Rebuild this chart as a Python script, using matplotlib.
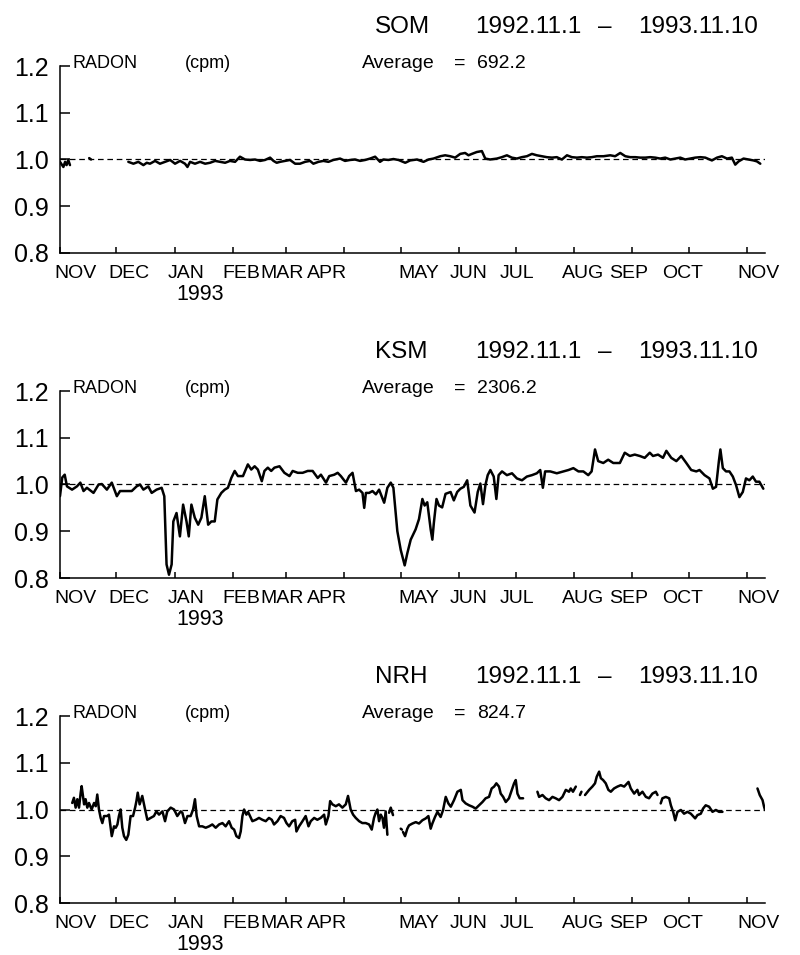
import numpy as np
import matplotlib
matplotlib.use("Agg")
import matplotlib.pyplot as plt

nan = np.nan

# ---------------- data (days since 1992-11-01, relative radon) ----------------
som_day = [0, 1.8, 2.7, 3.5, 4.4, 5.3, nan, 15.5, 16.5, nan,
           36.3, 39.0, 41.6, 44.3, 46.1, 47.8, 50.5, 53.1, 55.8, 58.5, 61.1, 63.8, 66.4, 67.7,
           69.1, 71.7, 74.4, 77.1, 79.7, 82.4, 85.0, 87.7, 90.3, 93.0, 95.6, 98.3, 101.0, 103.6,
           106.3, 108.9, 111.6, 113.4, 115.1, 116.9, 119.6, 122.2, 124.9, 127.5, 130.2, 132.8,
           134.6, 137.3, 139.9, 142.6, 145.2, 148.8, 151.4, 154.1, 156.7, 159.4, 162.1, 164.7,
           167.4, 170.0, 171.8, 174.5, 177.1, 179.8,
           183.4, 186.0, 189.6, 193.1, 195.8, 198.4, 202.0, 204.6, 207.3, 209.9, 212.6, 215.2,
           217.0, 218.8, 221.4, 224.1, 225.9, 228.5, 232.1, 234.7, 237.4, 240.0, 242.7, 245.3,
           248.0, 250.7, 253.3, 256.0, 258.6, 261.3, 263.9, 266.6, 269.3, 271.9, 274.6, 277.2,
           279.9, 282.5, 285.2, 288.7, 292.3, 294.9, 297.6, 300.3, 302.9, 305.6, 308.2, 310.9,
           313.5, 316.2, 318.8, 321.5, 324.2, 326.8, 329.5, 332.1, 334.8, 337.4, 340.1, 342.8,
           346.3, 349.0, 351.6, 354.3, 356.9, 358.7, 360.5, 363.1, 365.8, 368.4, 370.2, 372.0]
som_val = [0.995, 0.984, 0.995, 0.988, 0.999, 0.988, nan, 1.003, 1.000, nan,
           0.995, 0.991, 0.995, 0.988, 0.993, 0.991, 0.997, 0.991, 0.995, 0.999, 0.991, 0.997, 0.991, 0.984,
           0.995, 0.991, 0.995, 0.991, 0.993, 0.997, 0.995, 0.993, 0.997, 0.995, 1.006, 1.000, 0.999, 1.000,
           0.997, 0.999, 1.004, 0.997, 0.993, 0.995, 0.997, 0.999, 0.991, 0.991, 0.995, 0.997,
           0.991, 0.995, 0.997, 0.995, 0.999, 1.002, 0.997, 0.999, 1.000, 0.997, 0.999, 1.002,
           1.006, 0.995, 1.000, 0.999, 1.001, 0.999,
           0.993, 0.998, 1.000, 0.995, 1.000, 1.002, 1.007, 1.009, 1.007, 1.004, 1.012, 1.014,
           1.009, 1.012, 1.016, 1.018, 1.002, 1.000, 1.002, 1.005, 1.009, 1.004, 1.002, 1.005,
           1.007, 1.012, 1.009, 1.007, 1.005, 1.004, 1.005, 1.000, 1.009, 1.005, 1.004, 1.005,
           1.004, 1.005, 1.007, 1.007, 1.009, 1.007, 1.014, 1.007, 1.005, 1.005, 1.004, 1.004,
           1.005, 1.004, 1.002, 1.004, 1.000, 1.002, 1.004, 1.000, 1.002, 1.004, 1.005, 1.004,
           0.998, 1.004, 1.007, 1.002, 1.004, 0.989, 0.996, 1.002, 1.000, 0.998, 0.996, 0.991]

ksm_day = [0, 1.2, 2.5, 3.7, 6.4, 9.0, 10.8, 12.5, 14.3, 17.8, 20.5, 22.2, 24.9, 27.5, 30.2,
           31.9, 34.6, 38.1, 40.7, 42.5, 44.3, 46.9, 48.7, 51.3, 54.0, 55.4, 56.6, 57.9, 59.3,
           60.2, 61.9, 63.7, 65.4, 67.2, 68.4, 69.8, 71.6, 73.4, 75.1, 76.9, 78.7, 80.4, 82.2,
           83.6, 85.7, 87.5, 89.2, 91.0, 92.8, 94.5, 97.2, 99.8, 101.6, 103.4, 105.1, 107.2,
           108.6, 110.4, 112.2, 113.9, 116.6, 119.2, 121.9, 123.6, 126.3, 128.9, 131.6, 134.2,
           136.9, 138.6, 141.3, 143.0, 145.7, 147.5, 149.2, 151.9, 153.6, 155.4, 157.2, 158.9,
           160.7, 161.6, 162.5, 164.2, 166.0, 167.8, 169.5, 172.2, 173.9, 175.7, 177.1, 179.2,
           181.0, 183.1, 184.5, 186.3, 188.9, 190.7, 192.5, 193.7, 195.1, 196.9, 197.8, 198.6,
           200.0, 201.3, 203.0, 204.8, 207.5, 209.2, 211.0, 212.7, 214.5, 216.3, 218.0, 220.2,
           221.9, 223.3, 224.7, 226.0, 227.2, 228.6, 230.4, 231.8, 233.0, 234.8, 237.4, 240.1,
           242.7, 245.4, 248.0, 250.7, 253.3, 255.1, 256.5, 257.7, 260.4, 263.9, 267.4, 270.1,
           272.7, 275.4, 278.0, 280.6, 282.4, 284.2, 285.9, 288.6, 291.2, 293.9, 297.4, 300.0,
           302.7, 305.3, 308.0, 310.6, 313.3, 315.0, 317.7, 320.3, 322.1, 324.7, 327.4, 330.0,
           332.7, 335.3, 338.0, 339.7, 342.4, 345.0, 346.8, 348.5, 350.0, 350.8, 352.1, 353.8,
           355.6, 357.4, 359.1, 360.9, 362.7, 364.4, 366.2, 368.0, 369.7, 371.5, 373.6]
ksm_val = [0.975, 1.015, 1.021, 0.996, 0.989, 0.996, 1.004, 0.986, 0.993, 0.982, 1.000, 1.001, 0.989, 1.004, 0.975,
           0.986, 0.986, 0.986, 0.996, 1.000, 0.989, 0.996, 0.982, 0.989, 0.993, 0.975, 0.829, 0.807, 0.829,
           0.921, 0.939, 0.889, 0.957, 0.921, 0.889, 0.957, 0.929, 0.914, 0.929, 0.975, 0.914, 0.921, 0.921,
           0.968, 0.982, 0.989, 0.993, 1.014, 1.029, 1.018, 1.018, 1.043, 1.032, 1.039, 1.032, 1.007,
           1.029, 1.036, 1.029, 1.036, 1.039, 1.025, 1.018, 1.029, 1.025, 1.025, 1.029, 1.029,
           1.014, 1.021, 1.004, 1.018, 1.021, 1.025, 1.018, 1.004, 1.018, 1.025, 0.986, 0.989,
           0.982, 0.950, 0.982, 0.982, 0.986, 0.979, 0.989, 0.961, 0.993, 1.004, 0.993, 0.900,
           0.860, 0.827, 0.853, 0.882, 0.904, 0.926, 0.969, 0.955, 0.962, 0.904, 0.882, 0.918,
           0.969, 0.955, 0.951, 0.980, 0.984, 0.966, 0.984, 0.991, 0.995, 1.009, 0.955, 0.940,
           0.984, 1.002, 0.958, 0.999, 1.020, 1.031, 1.017, 0.969, 1.020, 1.028, 1.020, 1.024,
           1.013, 1.009, 1.017, 1.020, 1.024, 1.031, 0.993, 1.028, 1.028, 1.024, 1.028, 1.031,
           1.035, 1.028, 1.028, 1.020, 1.028, 1.075, 1.050, 1.046, 1.053, 1.046, 1.046, 1.068,
           1.061, 1.064, 1.061, 1.057, 1.068, 1.061, 1.064, 1.057, 1.072, 1.057, 1.050, 1.061,
           1.046, 1.031, 1.028, 1.031, 1.020, 1.013, 0.991, 0.995, 1.050, 1.075, 1.035, 1.028,
           1.028, 1.017, 0.999, 0.973, 0.984, 1.013, 1.009, 1.017, 1.006, 1.006, 0.991]

nrh_day = [6.5, 7.4, 8.3, 9.2, 10.1, 11.0, 11.5, 12.8, 13.6, 14.5, 15.4, 16.8, 18.1, 19.0, 19.8,
           20.7, 21.6, 22.5, 23.4, 25.1, 26.0, 27.5, 28.7, 29.6, 30.5, 31.3, 32.2, 33.1, 34.0,
           35.2, 36.3, 37.5, 38.8, 39.9, 40.6, 41.3, 42.3, 43.7, 45.2, 46.4, 48.2, 49.9, 51.2,
           52.6, 54.4, 55.8, 57.0, 58.8, 60.6, 62.3, 64.1, 65.0, 66.4, 67.7, 69.4, 70.7, 71.7,
           72.6, 73.9, 75.6, 77.4, 79.2, 80.9, 82.7, 84.5, 86.3, 88.0, 89.8, 91.2, 92.5, 93.7,
           95.1, 96.0, 96.9, 97.8, 99.0, 99.9, 102.2, 104.0, 105.7, 107.5, 109.3, 111.0, 112.5,
           113.7, 115.5, 117.2, 119.0, 120.3, 121.7, 123.4, 124.9, 125.6, 127.0, 128.8, 130.5,
           132.0, 133.2, 135.0, 136.7, 138.5, 140.3, 141.2, 142.6, 143.5, 144.7, 146.5, 148.2,
           150.0, 151.8, 153.0, 154.4, 155.7, 157.1, 158.9, 160.6, 162.4, 164.2, 165.6, 166.8,
           167.7, 168.6, 169.5, 170.4, 171.3, 172.1, 173.0, 173.9, nan,
           174.8, 175.7, 176.9, nan, 181.0, 181.6, nan,
           182.2, 183.3, 184.5, 185.4, 187.2, 189.0, 190.7, 192.5, 194.3, 195.7, 196.9, 197.8,
           199.2, 200.5, 202.2, 203.5, 204.9, 206.3, 207.6, 209.3, 211.1, 212.9, 213.8, 215.5,
           217.3, 219.1, 220.8, 222.6, 224.4, 226.1, 227.9, 229.3, 230.6, 231.8, 233.2, 234.1,
           235.4, 236.8, 238.5, 240.0, 241.2, 242.1, 243.0, 244.2, 246.0, nan,
           253.6, 254.5, 256.3, 258.0, 259.8, 261.6, 263.3, 265.1, 266.9, 268.7, 270.4, 271.3,
           272.5, 274.0, nan, 276.2, 277.0, nan,
           278.9, 281.1, 282.8, 284.2, 285.1, 286.4, 287.3, 288.5, 289.9, 291.3, 292.6, 294.3,
           296.1, 297.9, 299.7, 302.0, 303.2, 305.0, 306.7, 307.6, 309.4, 311.2, 312.9, 314.7,
           316.5, 317.4, nan,
           319.1, 320.0, 321.8, 323.6, 324.5, 325.7, 326.8, 328.0, 329.8, 331.5, 333.3, 335.1,
           337.4, 338.6, 340.4, 341.6, 343.0, 344.8, 346.6, 348.4, 350.1, 351.9, nan,
           370.5, 371.7, 373.2, 374.0, 374.5]
nrh_val = [1.014, 1.025, 1.004, 1.022, 1.004, 1.036, 1.050, 1.011, 1.022, 1.004, 1.014, 1.000, 1.014, 1.007, 1.032,
           1.000, 0.982, 0.971, 0.986, 0.986, 0.989, 0.943, 0.964, 0.961, 0.968, 0.986, 1.000, 0.961, 0.943,
           0.935, 0.946, 0.986, 0.986, 1.004, 1.018, 1.036, 1.011, 1.029, 1.000, 0.978, 0.982, 0.986, 0.996,
           0.989, 0.996, 0.975, 0.996, 1.004, 1.000, 0.986, 0.996, 0.993, 0.971, 0.986, 0.986, 1.000, 1.022,
           0.986, 0.964, 0.964, 0.961, 0.964, 0.968, 0.961, 0.968, 0.971, 0.964, 0.975, 0.961, 0.957, 0.943,
           0.939, 0.953, 0.986, 1.000, 0.989, 0.995, 0.975, 0.978, 0.982, 0.978, 0.975, 0.982, 0.978,
           0.968, 0.975, 0.986, 0.982, 0.971, 0.964, 0.975, 0.978, 0.953, 0.964, 0.975, 0.986,
           0.964, 0.975, 0.982, 0.978, 0.982, 0.989, 0.968, 0.986, 1.018, 1.011, 1.007, 1.011,
           1.004, 1.011, 1.029, 1.000, 0.989, 0.982, 0.975, 0.971, 0.971, 0.968, 0.957, 0.982,
           0.993, 1.000, 0.975, 0.989, 0.982, 0.961, 0.996, 0.946, nan,
           0.993, 1.004, 0.988, nan, 0.959, 0.957, nan,
           0.952, 0.943, 0.959, 0.966, 0.970, 0.973, 0.970, 0.977, 0.981, 0.986, 0.959, 0.970,
           0.984, 0.995, 0.984, 0.999, 1.027, 1.013, 1.006, 1.020, 1.038, 1.042, 1.020, 1.013,
           1.009, 1.006, 1.002, 1.009, 1.016, 1.024, 1.027, 1.045, 1.049, 1.056, 1.049, 1.034,
           1.027, 1.016, 1.024, 1.042, 1.056, 1.063, 1.034, 1.024, 1.024, nan,
           1.038, 1.027, 1.031, 1.024, 1.020, 1.027, 1.024, 1.020, 1.027, 1.042, 1.038, 1.045,
           1.038, 1.049, nan, 1.031, 1.038, nan,
           1.031, 1.042, 1.049, 1.056, 1.070, 1.081, 1.067, 1.063, 1.056, 1.042, 1.038, 1.045,
           1.049, 1.052, 1.049, 1.059, 1.045, 1.034, 1.042, 1.031, 1.038, 1.027, 1.024, 1.034,
           1.038, 1.031, nan,
           1.013, 1.024, 1.027, 1.024, 1.009, 0.995, 0.977, 0.995, 0.999, 0.991, 0.995, 0.991,
           0.981, 0.988, 0.991, 1.002, 1.009, 1.006, 0.995, 0.999, 0.995, 0.995, nan,
           1.045, 1.031, 1.020, 1.006, 0.999]

stations = ["SOM", "KSM", "NRH"]
averages = ["692.2", "2306.2", "824.7"]
period_start = "1992.11.1"
period_end = "1993.11.10"

ytick_vals = [0.8, 0.9, 1.0, 1.1, 1.2]
ytick_labels = ["0.8", "0.9", "1.0", "1.1", "1.2"]
month_start_days = [0, 30, 61, 92, 120, 151, 181, 212, 242, 273, 304, 334, 365]
month_labels = ["NOV", "DEC", "JAN", "FEB", "MAR", "APR", "MAY", "JUN", "JUL", "AUG", "SEP", "OCT", "NOV"]
month_label_days = [8.0, 36.4, 67.2, 96.4, 118.2, 141.8, 190.7, 217.3, 242.8, 277.9, 301.8, 330.5, 370.9]
year_label = "1993"
year_label_day = 74.4

# ---------------- drawing ----------------
plt.rcParams["font.family"] = ["Liberation Sans", "DejaVu Sans"]
W, H = 800, 955
fig = plt.figure(figsize=(W / 100, H / 100), dpi=100)

series = [(som_day, som_val), (ksm_day, ksm_val), (nrh_day, nrh_val)]

for k, (st, avg, (d, v)) in enumerate(zip(stations, averages, series)):
    off = 325 * k
    ax = fig.add_axes([60 / W, 1 - (253 + off) / H, 705 / W, 187 / H])
    ax.plot(np.array(d, float), np.array(v, float), color="black", lw=1.8,
            solid_joinstyle="round", solid_capstyle="round")
    ax.axhline(1.0, color="black", lw=0.9, ls=(0, (4.5, 3)))
    ax.set_xlim(0, 374.5)
    ax.set_ylim(0.8, 1.2)
    for s in ["top", "right"]:
        ax.spines[s].set_visible(False)
    for s in ["left", "bottom"]:
        ax.spines[s].set_linewidth(1.1)
    ax.set_yticks(ytick_vals)
    ax.set_yticklabels(ytick_labels)
    ax.tick_params(axis="y", direction="in", length=7, width=1.1, pad=8, labelsize=18)
    ax.set_xticks(month_start_days)
    ax.set_xticklabels([])
    ax.tick_params(axis="x", direction="in", length=4.5, width=1.1)
    for lbl, md in zip(month_labels, month_label_days):
        ax.annotate(lbl, xy=(md, 0), xycoords=("data", "axes fraction"),
                    xytext=(0, -18), textcoords="offset points",
                    ha="center", va="baseline", fontsize=14)
    ax.annotate(year_label, xy=(year_label_day, 0), xycoords=("data", "axes fraction"),
                xytext=(0, -34), textcoords="offset points",
                ha="center", va="baseline", fontsize=15.5)

    def fy(py):
        return 1 - (py + off) / H

    fig.text(375 / W, fy(33), st, fontsize=17.5, va="baseline", ha="left")
    fig.text(475 / W, fy(33), period_start, fontsize=17.5, va="baseline", ha="left")
    fig.text(605 / W, fy(33), "\u2013", fontsize=17.5, va="baseline", ha="center")
    fig.text(638 / W, fy(33), period_end, fontsize=17.5, va="baseline", ha="left")
    fig.text(72 / W, fy(68), "RADON", fontsize=13, va="baseline", ha="left")
    fig.text(185 / W, fy(68), "(cpm)", fontsize=13, va="baseline", ha="left")
    fig.text(362 / W, fy(68), "Average", fontsize=14, va="baseline", ha="left")
    fig.text(460 / W, fy(68), "=", fontsize=14, va="baseline", ha="center")
    fig.text(477 / W, fy(68), avg, fontsize=14, va="baseline", ha="left")

fig.savefig("out.png", dpi=100, facecolor="white")
